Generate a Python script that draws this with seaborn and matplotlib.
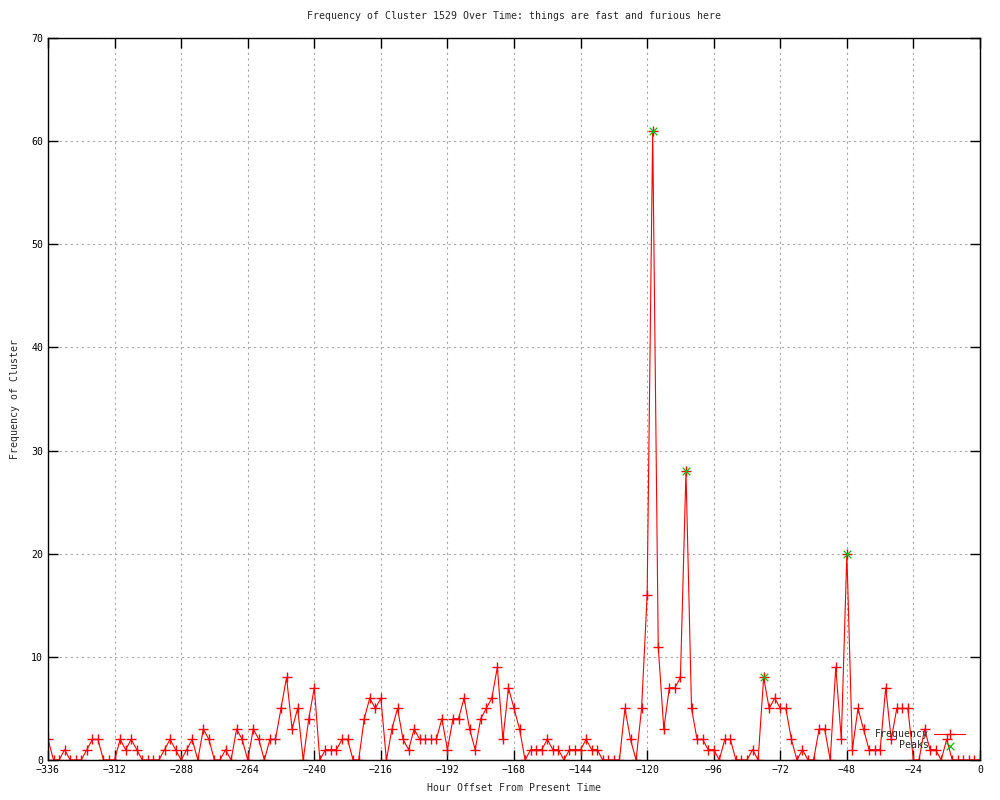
import matplotlib
matplotlib.use("Agg")
import matplotlib.pyplot as plt
import seaborn as sns
import numpy as np
import pandas as pd

# hours before now, one sample every 2 hours
hours = list(range(-336, 1, 2))
freq = [2, 0, 0, 1, 0, 0, 0, 1, 2, 2, 0, 0, 0, 2, 1, 2, 1, 0, 0, 0,
        0, 1, 2, 1, 0, 1, 2, 0, 3, 2, 0, 0, 1, 0, 3, 2, 0, 3, 2, 0,
        2, 2, 5, 8, 3, 5, 0, 4, 7, 0, 1, 1, 1, 2, 2, 0, 0, 4, 6, 5,
        6, 0, 3, 5, 2, 1, 3, 2, 2, 2, 2, 4, 1, 4, 4, 6, 3, 1, 4, 5,
        6, 9, 2, 7, 5, 3, 0, 1, 1, 1, 2, 1, 1, 0, 1, 1, 1, 2, 1, 1,
        0, 0, 0, 0, 5, 2, 0, 5, 16, 61, 11, 3, 7, 7, 8, 28, 5, 2, 2, 1,
        1, 0, 2, 2, 0, 0, 0, 1, 0, 8, 5, 6, 5, 5, 2, 0, 1, 0, 0, 3,
        3, 0, 9, 2, 20, 1, 5, 3, 1, 1, 1, 7, 2, 5, 5, 5, 0, 0, 3, 1,
        1, 0, 2, 0, 0, 0, 0, 0, 0]

peak_hours = [-118, -106, -78, -48]
peak_freq = [61, 28, 8, 20]

x_ticks = list(range(-336, 1, 24))
y_ticks = list(range(0, 71, 10))

df = pd.DataFrame({"hour": hours, "freq": freq})
peaks = pd.DataFrame({"hour": peak_hours, "freq": peak_freq})

sns.set_theme(style="ticks")
plt.rcParams['font.family'] = ['DejaVu Sans Mono']
fs = 7.1

fig = plt.figure(figsize=(10, 8), dpi=100)
ax = fig.add_axes([0.048, 0.05, 0.932, 0.9025])

sns.lineplot(data=df, x="hour", y="freq", ax=ax, color="#ff0000", lw=0.8,
             marker="+", markersize=6.5, markeredgewidth=1.0,
             markeredgecolor="#ff0000", label="Frequency")
sns.scatterplot(data=peaks, x="hour", y="freq", ax=ax, color="#00c000",
                marker="x", s=30, linewidth=0.9, label="Peaks", zorder=5)

ax.set_xlim(-336, 0)
ax.set_ylim(0, 70)
ax.set_xticks(x_ticks)
ax.set_yticks(y_ticks)
ax.grid(True, color="#a8a8a8", linestyle=(0, (2, 3)), linewidth=0.8)
ax.set_axisbelow(True)
ax.tick_params(direction="in", length=7, width=1, top=True, right=True,
               labelsize=fs, colors="black")
for s in ax.spines.values():
    s.set_color("black")
    s.set_linewidth(1)

ax.set_xlabel("Hour Offset From Present Time", fontsize=fs, labelpad=6)
ax.set_ylabel("Frequency of Cluster", fontsize=fs, labelpad=8)
ax.set_title("Frequency of Cluster 1529 Over Time: things are fast and furious here",
             fontsize=fs, pad=14)

handles, labels = ax.get_legend_handles_labels()
ax.legend(handles, labels, loc="lower right", bbox_to_anchor=(0.995, 0.0),
          frameon=False, fontsize=fs, markerfirst=False, handlelength=3.2,
          handletextpad=0.5, labelspacing=0.1, borderaxespad=0.6)

plt.savefig("out.png", dpi=100)
